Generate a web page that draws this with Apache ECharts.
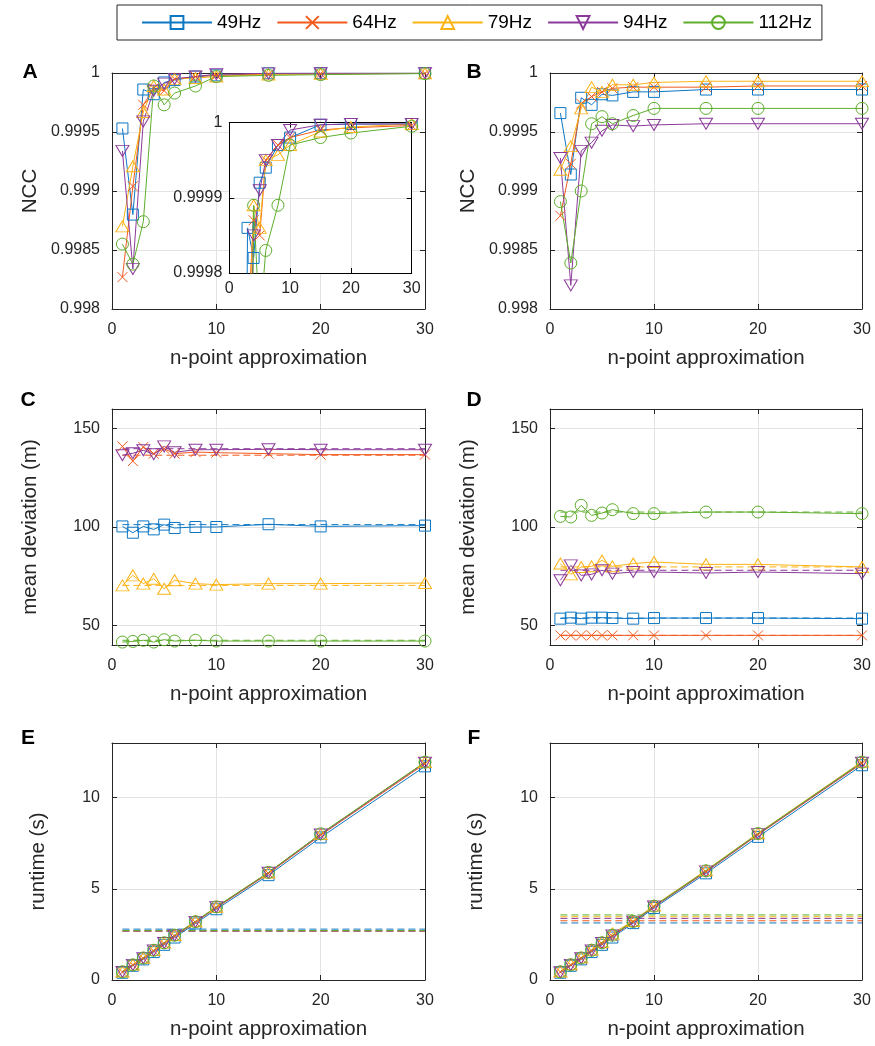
<!DOCTYPE html>
<html><head><meta charset="utf-8">
<script src="https://cdn.jsdelivr.net/npm/echarts@6.0.0/dist/echarts.min.js"></script>
<style>html,body{margin:0;padding:0;background:#fff}#c{width:875px;height:1046px}</style>
</head><body><div id="c"></div>
<script>
// ---------------- data ----------------
const nPoints = [1, 2, 3, 4, 5, 6, 8, 10, 15, 20, 30];
const freqLabels = ['49Hz', '64Hz', '79Hz', '94Hz', '112Hz'];
const xTicks = [0, 10, 20, 30];
const devTicks = [50, 100, 150];

// A: NCC (also shown zoomed in the inset)
const nccA = [
  [0.99953, 0.99880, 0.99986, 0.99982, 0.99992, 0.99994, 0.99997, 0.99998, 0.999997, 0.999998, 0.999998],
  [0.99827, 0.99904, 0.99973, 0.99987, 0.99985, 0.99995, 0.99997, 0.99998, 0.99999, 0.999993, 0.999996],
  [0.99870, 0.99921, 0.99967, 0.99989, 0.99986, 0.99995, 0.999957, 0.99997, 0.999988, 0.999994, 0.999998],
  [0.99934, 0.99834, 0.99959, 0.99985, 0.99991, 0.99995, 0.99997, 0.99999, 0.999997, 0.999998, 0.999998],
  [0.99855, 0.99838, 0.99874, 0.99989, 0.99973, 0.99983, 0.99989, 0.99997, 0.99998, 0.999986, 0.999995]
];
// B: NCC
const nccB = [
  [0.99966, 0.99914, 0.99979, 0.99973, 0.99982, 0.99981, 0.99984, 0.99984, 0.99986, 0.99986, 0.99986],
  [0.99879, 0.99923, 0.99974, 0.99980, 0.99984, 0.99987, 0.99988, 0.99988, 0.99988, 0.99989, 0.99989],
  [0.99918, 0.99938, 0.99970, 0.99988, 0.99984, 0.99990, 0.99990, 0.99992, 0.99993, 0.99993, 0.99993],
  [0.99928, 0.99820, 0.99934, 0.99941, 0.99951, 0.99956, 0.99955, 0.99956, 0.99957, 0.99957, 0.99957],
  [0.99891, 0.99839, 0.99900, 0.99957, 0.99963, 0.99957, 0.99964, 0.99970, 0.99970, 0.99970, 0.99970]
];
// C: mean deviation (m)
const devC = [
  [100.3, 97.1, 100.3, 98.8, 101.2, 99.5, 100.0, 100.0, 101.4, 100.3, 100.7],
  [141.0, 133.5, 140.7, 137.3, 139.8, 137.3, 138.1, 137.8, 137.3, 136.8, 136.8],
  [70.3, 75.4, 71.2, 73.7, 68.6, 72.9, 71.2, 70.7, 71.2, 71.2, 71.5],
  [136.5, 137.5, 139.0, 137.0, 141.0, 138.0, 139.3, 139.3, 139.5, 139.3, 139.3],
  [41.5, 41.8, 42.4, 41.5, 42.7, 42.0, 42.4, 42.0, 42.0, 42.0, 42.0]
];
const devCRef = [101.2, 136.5, 70.3, 139.8, 42.4];
// D: mean deviation (m)
const devD = [
  [53.4, 53.9, 53.4, 53.9, 53.9, 53.7, 53.4, 53.7, 53.7, 53.7, 53.4],
  [44.9, 44.9, 44.9, 44.9, 44.9, 44.9, 44.9, 44.9, 44.9, 44.9, 44.9],
  [81.4, 75.9, 79.7, 80.0, 83.0, 80.0, 81.4, 82.2, 81.0, 81.0, 79.7],
  [72.9, 80.5, 75.4, 75.9, 78.0, 76.3, 77.1, 77.1, 76.6, 77.1, 76.3],
  [105.4, 105.1, 111.0, 105.9, 107.1, 108.8, 106.8, 106.8, 107.6, 107.6, 106.8]
];
const devDRef = [53.7, 44.9, 79.7, 78.0, 107.6];
// E: runtime (s)
const timeE = [
  [0.40, 0.78, 1.13, 1.53, 1.93, 2.33, 3.10, 3.88, 5.75, 7.82, 11.72],
  [0.44, 0.82, 1.18, 1.59, 1.99, 2.40, 3.16, 3.96, 5.84, 7.94, 11.86],
  [0.47, 0.85, 1.22, 1.64, 2.05, 2.47, 3.22, 4.02, 5.90, 8.00, 11.95],
  [0.44, 0.83, 1.20, 1.62, 2.03, 2.44, 3.19, 3.99, 5.88, 7.98, 11.92],
  [0.45, 0.83, 1.21, 1.63, 2.04, 2.46, 3.20, 4.01, 5.90, 8.02, 11.95]
];
const timeERef = [2.79, 2.69, 2.70, 2.68, 2.71];
// F: runtime (s)
const timeF = [
  [0.40, 0.78, 1.13, 1.53, 1.93, 2.33, 3.12, 3.95, 5.85, 7.85, 11.78],
  [0.44, 0.82, 1.18, 1.59, 1.99, 2.40, 3.18, 4.02, 5.93, 7.97, 11.88],
  [0.47, 0.86, 1.24, 1.67, 2.08, 2.55, 3.24, 4.08, 6.02, 8.05, 11.98],
  [0.43, 0.83, 1.20, 1.62, 2.03, 2.44, 3.20, 4.03, 5.96, 8.00, 11.92],
  [0.45, 0.84, 1.21, 1.63, 2.04, 2.46, 3.21, 4.05, 5.99, 8.03, 11.95]
];
const timeFRef = [3.13, 3.25, 3.47, 3.38, 3.57];

// ---------------- styling ----------------
const COLORS = ['#0d77c4', '#f25a1e', '#fbb316', '#8b3a9a', '#5eae2c'];
const SYMBOLS = ['path://M0,0L10,0L10,10L0,10Z', 'path://M0,0L10,10M10,0L0,10',
  'path://M5,0L10,8.66L0,8.66Z', 'path://M0,0L10,0L5,8.66Z', 'circle'];
const SYMSIZE = [11, 10, [13, 11], [13, 11], 12];
const FONT = '"Liberation Sans", Helvetica, Arial, sans-serif';
const AX = '#262626';
const GRIDC = '#e3e3e3';

const grids = [], xAxes = [], yAxes = [], series = [];

function addPanel(rect, yr, o) {
  const gi = grids.length;
  grids.push({left: rect[0], top: rect[1], width: rect[2], height: rect[3],
    show: !!o.bg, backgroundColor: o.bg || 'transparent', borderWidth: 0, z: o.gz || 0});
  const ac = o.axc || AX;
  const line = {show: true, onZero: false, lineStyle: {color: ac, width: 1}};
  const tick = {show: true, inside: true, length: 5, lineStyle: {color: ac, width: 1}};
  if (o.yticks) tick.customValues = o.yticks;
  const xtick = {show: true, inside: true, length: 5, lineStyle: {color: ac, width: 1}};
  const split = {show: true, lineStyle: {color: GRIDC, width: 1}};
  const lab = {color: AX, fontSize: 16, fontFamily: FONT};
  const nameStyle = {color: AX, fontSize: 20.5, fontFamily: FONT};
  const z = o.az || 0;
  const xmin = xTicks[0], xmax = xTicks[xTicks.length - 1], xint = xTicks[1] - xTicks[0];
  xAxes.push({type: 'value', gridIndex: gi, position: 'bottom', min: xmin, max: xmax, interval: xint,
    axisLine: line, axisTick: xtick, splitLine: split,
    axisLabel: Object.assign({}, lab, {margin: o.xm || 13}),
    name: o.xname || '', nameLocation: 'middle', nameGap: 39, nameTextStyle: nameStyle, z: z});
  xAxes.push({type: 'value', gridIndex: gi, position: 'top', min: xmin, max: xmax, interval: xint,
    axisLine: line, axisTick: xtick, splitLine: {show: false}, axisLabel: {show: false}, z: z});
  const ylab = Object.assign({}, lab, {margin: o.ym || 12,
    showMinLabel: o.hideMin ? false : true, showMaxLabel: o.hideMax ? false : true});
  if (o.yticks) { ylab.customValues = o.yticks; delete ylab.showMinLabel; delete ylab.showMaxLabel; }
  const yBase = {type: 'value', gridIndex: gi, min: yr[0], max: yr[1]};
  if (!o.yticks) yBase.interval = yr[2];
  yAxes.push(Object.assign({}, yBase, {position: 'left',
    axisLine: line, axisTick: tick, splitLine: split, axisLabel: ylab,
    name: o.yname || '', nameLocation: 'middle', nameGap: o.yng || 70, nameTextStyle: nameStyle, z: z}));
  yAxes.push(Object.assign({}, yBase, {position: 'right',
    axisLine: line, axisTick: tick, splitLine: {show: false}, axisLabel: {show: false}, z: z}));
  return gi;
}

function addSeries(gi, arrs, z) {
  arrs.forEach(function (arr, k) {
    series.push({type: 'line', name: freqLabels[k], xAxisIndex: 2 * gi, yAxisIndex: 2 * gi,
      data: nPoints.map(function (x, i) { return [x, arr[i]]; }),
      symbol: SYMBOLS[k], symbolSize: SYMSIZE[k], showAllSymbol: true,
      lineStyle: {color: COLORS[k], width: 1},
      itemStyle: {color: 'rgba(255,255,255,0)', borderColor: COLORS[k], borderWidth: 1},
      z: z || 2, clip: true, animation: false, silent: true});
  });
}
function addRefs(gi, refs) {
  refs.forEach(function (v, k) {
    series.push({type: 'line', name: freqLabels[k] + ' ref', xAxisIndex: 2 * gi, yAxisIndex: 2 * gi,
      data: [[nPoints[0], v], [nPoints[nPoints.length - 1], v]], symbol: 'none',
      lineStyle: {color: COLORS[k], width: 1, type: [7, 4]}, z: 1, animation: false, silent: true});
  });
}

const xName = 'n-point approximation';
const LW = 313, RW = 312, H = 236;
const gA = addPanel([112, 73, LW, H], [0.998, 1, 0.0005], {xname: xName, yname: 'NCC', yng: 71});
addSeries(gA, nccA);
const gB = addPanel([550, 73, RW, H], [0.998, 1, 0.0005], {xname: xName, yname: 'NCC', yng: 71});
addSeries(gB, nccB);
const gC = addPanel([112, 409, LW, H], [40, 160, 50], {xname: xName, yname: 'mean deviation (m)', yng: 71, yticks: devTicks});
addRefs(gC, devCRef); addSeries(gC, devC);
const gD = addPanel([550, 409, RW, H], [40, 160, 50], {xname: xName, yname: 'mean deviation (m)', yng: 71, yticks: devTicks});
addRefs(gD, devDRef); addSeries(gD, devD);
const gE = addPanel([112, 743, LW, 237], [0, 13, 5], {xname: xName, yname: 'runtime (s)', yng: 63, hideMax: true});
addRefs(gE, timeERef); addSeries(gE, timeE);
const gF = addPanel([550, 743, RW, 237], [0, 13, 5], {xname: xName, yname: 'runtime (s)', yng: 63, hideMax: true});
addRefs(gF, timeFRef); addSeries(gF, timeF);
// inset of A
const gI = addPanel([229.3, 122.5, 182.4, 150.5], [0.9998, 1, 0.0001], {bg: '#fff', gz: 5, az: 6, axc: '#000', xm: 8, ym: 7});
addSeries(gI, nccA, 7);

const letters = [['A', 30, 72], ['B', 474, 72], ['C', 28, 400], ['D', 474, 400], ['E', 28, 738], ['F', 474, 738]];

const chart = echarts.init(document.getElementById('c'), null, {renderer: 'canvas'});
chart.setOption({
  animation: false,
  backgroundColor: '#fff',
  grid: grids, xAxis: xAxes, yAxis: yAxes, series: series,
  legend: {data: freqLabels, left: 117, top: 5, itemWidth: 70, itemHeight: 16, itemGap: 15,
    padding: [8, 10, 8, 24], borderColor: AX, borderWidth: 1, selectedMode: false,
    textStyle: {fontSize: 19, color: '#000', fontFamily: FONT}},
  graphic: letters.map(function (l) {
    return {type: 'text', x: l[1], y: l[2], z: 20,
      style: {text: l[0], fill: '#000', font: 'bold 21px "Liberation Sans", Helvetica, Arial, sans-serif',
        align: 'center', verticalAlign: 'middle', textAlign: 'center', textVerticalAlign: 'middle'}};
  })
});
</script></body></html>
